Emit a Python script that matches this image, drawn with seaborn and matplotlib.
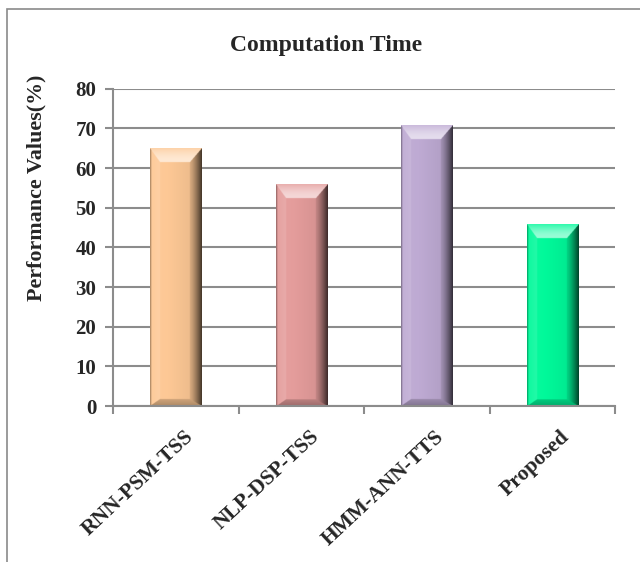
import numpy as np
import pandas as pd
import matplotlib
matplotlib.use("Agg")
import matplotlib.pyplot as plt
import seaborn as sns
from matplotlib.colors import to_rgb
from matplotlib.patches import Rectangle
from matplotlib.transforms import ScaledTranslation

# ---- data ----
methods = ["RNN-PSM-TSS", "NLP-DSP-TSS", "HMM-ANN-TTS", "Proposed"]
computation_time = [64.8, 55.8, 70.6, 45.7]
bar_colors = ["#FDC895", "#E49C9B", "#BEAAD3", "#00F99A"]
y_ticks = [0, 10, 20, 30, 40, 50, 60, 70, 80]

GRID = "#8C8C8C"

sns.set_theme(style="white")
plt.rcParams["font.family"] = ["Liberation Serif", "DejaVu Serif"]
plt.rcParams["font.weight"] = "bold"

fig = plt.figure(figsize=(6.4, 5.62), dpi=100)
ax = fig.add_axes([113 / 640, 1 - 406 / 562, (615 - 113) / 640, (406 - 88.7) / 562])

df = pd.DataFrame({"method": methods, "value": computation_time})
sns.barplot(data=df, x="method", y="value", hue="method", palette=bar_colors,
            saturation=1, width=0.41, legend=False, linewidth=0, ax=ax, zorder=1.5)

ax.set_xlim(-0.5, len(methods) - 0.5)
ax.set_ylim(0, 80)


def bevel_image(color, w_px, h_px, k=3):
    """Build an RGB image that gives a bar a bevelled, raised look."""
    base = np.array(to_rgb(color))
    nx, ny = max(int(w_px * k), 2), max(int(h_px * k), 2)
    u = (np.arange(nx) + 0.5) / k
    t = (np.arange(ny) + 0.5) / k
    U, T = np.meshgrid(u, t)
    bl, br, bt, bb = 10.0, 12.0, 14.0, 7.0
    nl, nr = U / bl, (w_px - U) / br
    nt, nb = T / bt, (h_px - T) / bb
    stack = np.stack([nt, nb, nl, nr])
    region = np.argmin(stack, axis=0)
    inside = stack.min(axis=0) >= 1

    face = 0.05 - 0.14 * (U / w_px)
    s = face
    s = np.where(region == 0, 0.18 + 0.42 * np.sin(np.pi * 0.5 * nt), s)       # top highlight
    s = np.where(region == 1, -0.32 + 0.14 * nb, s)                             # bottom
    s = np.where(region == 2, np.where(U < 1.5, -0.28, 0.04 + 0.1 * nl), s)     # left
    s = np.where(region == 3, -0.15 - 0.6 * (1 - nr) ** 1.3, s)                 # right
    s = np.where(inside, face, s)

    img = np.empty((ny, nx, 3))
    pos = s >= 0
    for c in range(3):
        ch = base[c]
        img[..., c] = np.where(pos, ch + (1 - ch) * s, ch * (1 + s))
    return np.clip(img, 0, 1)


px_per_x = ax.transData.transform((1, 0))[0] - ax.transData.transform((0, 0))[0]
px_per_y = ax.transData.transform((0, 1))[1] - ax.transData.transform((0, 0))[1]

for patch, color in zip(ax.patches, bar_colors):
    x0, y0 = patch.get_x(), patch.get_y()
    w, h = patch.get_width(), patch.get_height()
    img = bevel_image(color, w * px_per_x, h * px_per_y)
    ax.imshow(img, extent=(x0, x0 + w, y0, y0 + h), aspect="auto",
              interpolation="bilinear", origin="upper", zorder=2)

ax.set_xlim(-0.5, len(methods) - 0.5)
ax.set_ylim(0, 80)

# grid and axes
ax.set_yticks(y_ticks)
ax.yaxis.grid(True, color=GRID, linewidth=1.5)
ax.xaxis.grid(False)
ax.set_axisbelow(True)
for side in ("top", "right"):
    ax.spines[side].set_visible(False)
for side in ("left", "bottom"):
    ax.spines[side].set_color(GRID)
    ax.spines[side].set_linewidth(1.5)

ax.tick_params(axis="y", which="major", left=True, length=6, width=1.5, color=GRID,
               pad=6, labelsize=15)
ax.set_xticks(np.arange(-0.5, len(methods)), minor=True)
ax.tick_params(axis="x", which="minor", bottom=True, length=6, width=1.5, color=GRID)
ax.tick_params(axis="x", which="major", bottom=False, length=0, pad=15, labelsize=15.5)
ax.set_xticks(range(len(methods)))
ax.set_xticklabels(methods, rotation=43, ha="right", va="top", rotation_mode="anchor",
                   fontweight="bold")
for lab in ax.get_xticklabels():
    lab.set_transform(lab.get_transform() + ScaledTranslation(8 / 100, 0, fig.dpi_scale_trans))
for lab in ax.get_yticklabels():
    lab.set_fontweight("bold")

ax.set_xlabel("")
ax.set_ylabel("")

fig.text(36 / 640, 1 - 188 / 562, "Performance Values(%)", rotation=90,
         ha="center", va="center", fontsize=15.8, fontweight="bold")
fig.text(326 / 640, 1 - 45 / 562, "Computation Time", ha="center", va="center",
         fontsize=17, fontweight="bold")

# outer chart frame
fig.patches.append(Rectangle((7 / 640, -0.05), 1.2, 1 - 9 / 562 + 0.05,
                             transform=fig.transFigure, fill=False,
                             edgecolor="#8A8A8A", linewidth=1.2))

fig.savefig("out.png", dpi=100)
